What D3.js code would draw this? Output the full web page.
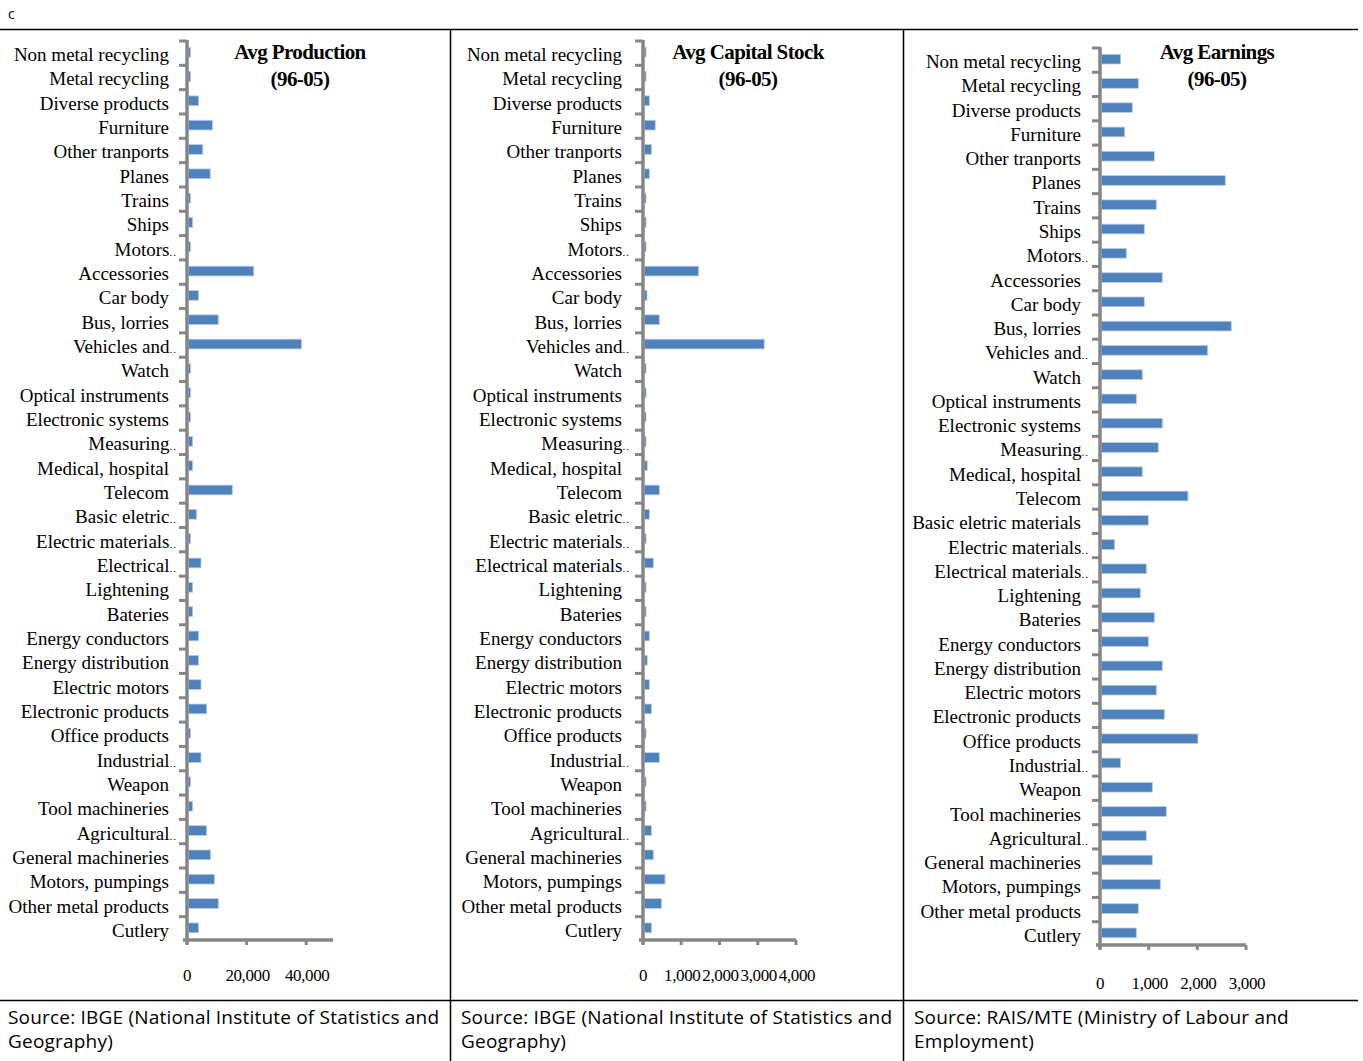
<!DOCTYPE html>
<html>
<head>
<meta charset="utf-8">
<script src="https://cdn.jsdelivr.net/npm/d3@7"></script>
<style>
  body { margin: 0; background: #fff; }
  svg text { font-family: "Liberation Serif", "Times New Roman", serif; }
</style>
</head>
<body>
<svg id="chart" width="1363" height="1061"></svg>
<script>
// categories, top to bottom
const categories = [
  'Non metal recycling', 'Metal recycling', 'Diverse products', 'Furniture', 'Other tranports',
  'Planes', 'Trains', 'Ships', 'Motors', 'Accessories', 'Car body', 'Bus, lorries',
  'Vehicles and', 'Watch', 'Optical instruments', 'Electronic systems', 'Measuring',
  'Medical, hospital', 'Telecom', 'Basic eletric materials', 'Electric materials',
  'Electrical materials', 'Lightening', 'Bateries', 'Energy conductors', 'Energy distribution',
  'Electric motors', 'Electronic products', 'Office products', 'Industrial', 'Weapon',
  'Tool machineries', 'Agricultural', 'General machineries', 'Motors, pumpings',
  'Other metal products', 'Cutlery'
];

// labels as shown in each panel ("…" = truncated by the chart)
const labelsProduction = categories.map(c => ({
  'Motors': 'Motors…', 'Vehicles and': 'Vehicles and…', 'Measuring': 'Measuring…',
  'Basic eletric materials': 'Basic eletric…', 'Electric materials': 'Electric materials…',
  'Electrical materials': 'Electrical…', 'Industrial': 'Industrial…', 'Agricultural': 'Agricultural…'
}[c] || c));
const labelsCapital = categories.map(c => ({
  'Motors': 'Motors…', 'Vehicles and': 'Vehicles and…', 'Measuring': 'Measuring…',
  'Basic eletric materials': 'Basic eletric…', 'Electric materials': 'Electric materials…',
  'Electrical materials': 'Electrical materials…', 'Industrial': 'Industrial…', 'Agricultural': 'Agricultural…'
}[c] || c));
const labelsEarnings = categories.map(c => ({
  'Motors': 'Motors…', 'Vehicles and': 'Vehicles and…', 'Measuring': 'Measuring…',
  'Electric materials': 'Electric materials…', 'Electrical materials': 'Electrical materials…',
  'Industrial': 'Industrial…', 'Agricultural': 'Agricultural…'
}[c] || c));

const avgProduction = [
  1200, 1200, 3900, 8500, 5300, 7800, 1200, 1900, 1200, 22400, 3900, 10500, 38400, 1200, 1200, 1200, 1900,
  1900, 15200, 3200, 1200, 4700, 1900, 1900, 3900, 3900, 4700, 6600, 1200, 4700, 1200, 1900, 6600,
  7900, 9200, 10500, 3900
];
const avgCapital = [
  80, 80, 165, 320, 220, 165, 80, 80, 80, 1455, 105, 427, 3170, 80, 80, 80, 80, 110, 427,
  165, 80, 270, 80, 80, 165, 110, 165, 220, 80, 427, 80, 80, 220, 270, 575, 480, 220
];
const avgEarnings = [
  424, 787, 664, 507, 1116, 2574, 1157, 910, 541, 1280, 910, 2697, 2211, 869, 746, 1280, 1198,
  869, 1807, 993, 301, 951, 828, 1116, 993, 1280, 1157, 1321, 2012, 424, 1075, 1362, 951, 1075,
  1239, 787, 746
];

const ticksProduction = [0, 20000, 40000];
const ticksCapital = [0, 1000, 2000, 3000, 4000];
const ticksEarnings = [0, 1000, 2000, 3000];

const sources = [
  ['Source: IBGE (National Institute of Statistics and', 'Geography)'],
  ['Source: IBGE (National Institute of Statistics and', 'Geography)'],
  ['Source: RAIS/MTE (Ministry of Labour and', 'Employment)']
];

const svg = d3.select('#chart');
const AXIS = '#868686';
const BAR = '#4f81bd';

// table frame
svg.append('text').attr('x', 8).attr('y', 19)
  .style('font-family', '"Open Sans", sans-serif').style('font-size', '14px').text('c');
const frame = svg.append('g').attr('stroke', '#000').attr('stroke-width', 1.5);
frame.append('line').attr('x1', 0).attr('x2', 1358).attr('y1', 29.5).attr('y2', 29.5);
frame.append('line').attr('x1', 0).attr('x2', 1358).attr('y1', 1000.5).attr('y2', 1000.5);
[450.5, 903.5].forEach(x => frame.append('line').attr('x1', x).attr('x2', x).attr('y1', 29).attr('y2', 1061));

function drawPanel(cfg) {
  const g = svg.append('g');
  const x = d3.scaleLinear().domain([0, cfg.max]).range([cfg.x0, cfg.x1]);
  const y = d3.scaleBand().domain(categories).range([cfg.top, cfg.bottom]).paddingInner(0.6).paddingOuter(0.3);
  const step = (cfg.bottom - cfg.top) / categories.length;

  // bars
  g.selectAll('rect.bar').data(categories).join('rect')
    .attr('class', 'bar')
    .attr('x', x(0) + 1.5)
    .attr('y', d => y(d))
    .attr('width', (d, i) => Math.max(0, x(cfg.values[i]) - x(0) - 1.5))
    .attr('height', y.bandwidth())
    .attr('fill', BAR)
    .attr('stroke', '#b9cde5')
    .attr('stroke-width', 0.8);

  // y axis line + boundary ticks
  g.append('line').attr('x1', x(0)).attr('x2', x(0)).attr('y1', cfg.top).attr('y2', cfg.bottom + 4)
    .attr('stroke', AXIS).attr('stroke-width', 3.5);
  g.selectAll('line.ytick').data(d3.range(categories.length)).join('line')
    .attr('class', 'ytick')
    .attr('x1', x(0) - 8).attr('x2', x(0))
    .attr('y1', i => cfg.top + i * step + 1).attr('y2', i => cfg.top + i * step + 1)
    .attr('stroke', AXIS).attr('stroke-width', 3);

  // x axis
  g.append('line').attr('x1', x(0) - 4).attr('x2', cfg.x1).attr('y1', cfg.bottom).attr('y2', cfg.bottom)
    .attr('stroke', AXIS).attr('stroke-width', 3.5);
  g.selectAll('line.xtick').data(cfg.ticks).join('line')
    .attr('class', 'xtick')
    .attr('x1', d => x(d)).attr('x2', d => x(d))
    .attr('y1', cfg.bottom).attr('y2', cfg.bottom + 5)
    .attr('stroke', AXIS).attr('stroke-width', 3);
  g.selectAll('text.xlab').data(cfg.ticks).join('text')
    .attr('class', 'xlab')
    .attr('x', d => x(d) + (d === 0 ? 0 : 1)).attr('y', cfg.tickY)
    .attr('text-anchor', 'middle')
    .style('font-size', '17px').style('letter-spacing', '-0.4px')
    .text(d => d3.format(',')(d));

  // category labels
  g.selectAll('text.ylab').data(cfg.labels).join('text')
    .attr('class', 'ylab')
    .attr('x', d => d.endsWith('…') ? cfg.labelRight + 8 : cfg.labelRight)
    .attr('y', (d, i) => y(categories[i]) + y.bandwidth() / 2 + 9)
    .attr('text-anchor', 'end')
    .style('font-size', '19px')
    .each(function(d) {
      const t = d3.select(this);
      if (d.endsWith('…')) {
        t.append('tspan').text(d.slice(0, -1));
        t.append('tspan').style('font-size', '11px').style('letter-spacing', '1px').text('..');
      } else {
        t.text(d);
      }
    });

  // title
  const title = g.append('text').attr('text-anchor', 'middle')
    .style('font-size', '21px').style('font-weight', 'bold').style('letter-spacing', '-0.6px');
  title.append('tspan').attr('x', cfg.titleX).attr('y', 59).text(cfg.title);
  title.append('tspan').attr('x', cfg.titleX).attr('y', 86).text('(96-05)');

  // source note
  const src = g.append('text')
    .style('font-family', '"Open Sans", sans-serif').style('font-size', '19px').style('letter-spacing', '0.2px');
  cfg.source.forEach((s, i) => src.append('tspan').attr('x', cfg.srcX).attr('y', 1024 + i * 24).text(s));
}

drawPanel({
  title: 'Avg Production', titleX: 300, values: avgProduction, labels: labelsProduction,
  max: 49000, x0: 187, x1: 333, top: 40, bottom: 940, ticks: ticksProduction, tickY: 981,
  labelRight: 169, srcX: 8, source: sources[0]
});
drawPanel({
  title: 'Avg Capital Stock', titleX: 748, values: avgCapital, labels: labelsCapital,
  max: 4000, x0: 643, x1: 796, top: 40, bottom: 940, ticks: ticksCapital, tickY: 981,
  labelRight: 622, srcX: 461, source: sources[1]
});
drawPanel({
  title: 'Avg Earnings', titleX: 1217, values: avgEarnings, labels: labelsEarnings,
  max: 3000, x0: 1100, x1: 1246, top: 47, bottom: 945, ticks: ticksEarnings, tickY: 989,
  labelRight: 1081, srcX: 914, source: sources[2]
});
</script>
</body>
</html>
